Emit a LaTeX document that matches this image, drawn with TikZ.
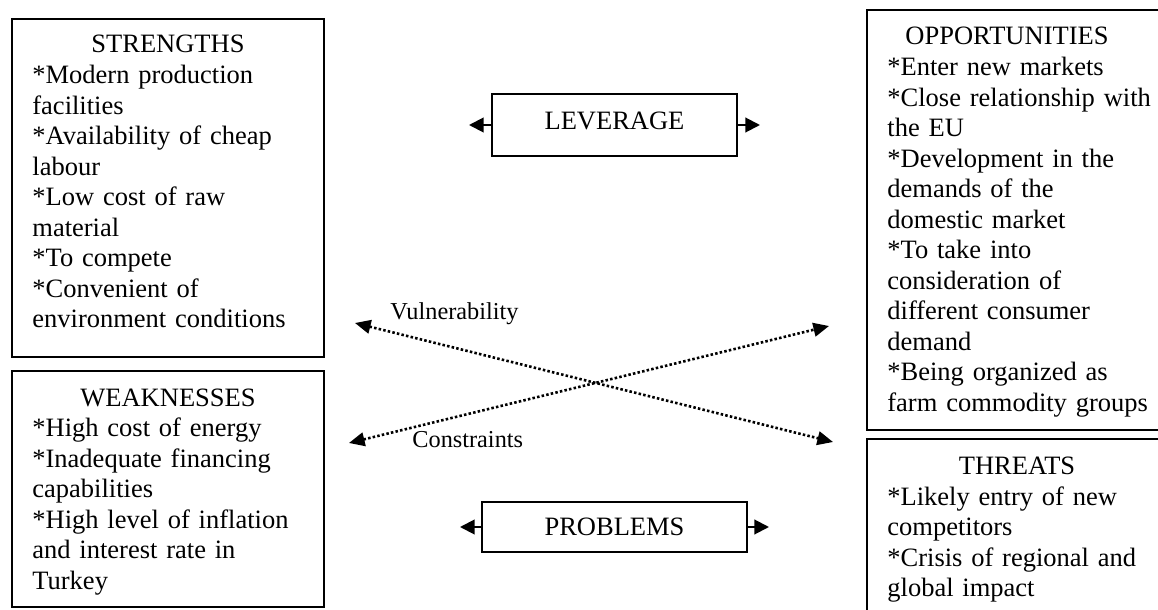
\documentclass[tikz,border=0pt]{standalone}
\usepackage{fontspec}
\setmainfont{Liberation Serif}
\usetikzlibrary{arrows.meta}
\begin{document}
\begin{tikzpicture}[x=0.5pt,y=-0.5pt,
  box/.style={draw, line width=1pt, inner sep=0pt, outer sep=0pt, anchor=north west},
  ttl/.style={font=\fontsize{13.25pt}{15.25pt}\selectfont, inner sep=0pt, anchor=base},
  body/.style={font=\fontsize{13.25pt}{15.25pt}\selectfont, inner sep=0pt, anchor=north west, text width=150pt, align=left},
  midbox/.style={draw, line width=1pt, inner sep=0pt, outer sep=0pt, font=\fontsize{13.25pt}{15.25pt}\selectfont},
  lbl/.style={font=\fontsize{12.15pt}{14pt}\selectfont, inner sep=0pt, anchor=base west},
  solidtip/.style={line width=1pt, -{Triangle[length=7.3pt,width=7.3pt]}},
  dotarrow/.style={line width=1.3pt, dash pattern=on 1.25pt off 1.1pt, {Triangle[length=7.8pt,width=6.8pt]}-{Triangle[length=7.8pt,width=6.8pt]}}
]
\useasboundingbox (0,0) rectangle (1158,610);
\clip (0,0) rectangle (1158,610);

% four SWOT boxes
\node[box, minimum width=156pt, minimum height=169pt] (S) at (12,19) {};
\node[box, minimum width=156pt, minimum height=118pt] (W) at (12,371) {};
\node[box, minimum width=148pt, minimum height=210pt] (O) at (867,10) {};
\node[box, minimum width=148pt, minimum height=92pt] (T) at (867,439) {};

% titles
\node[ttl] (St) at (168,53) {STRENGTHS};
\node[ttl] (Wt) at (168,406) {WEAKNESSES};
\node[ttl] (Ot) at (1007,45) {OPPORTUNITIES};
\node[ttl] (Tt) at (1017,474.5) {THREATS};

% bodies
\node[body] (Sb) at (32,63.5) {\rule{0pt}{10pt}*Modern production\\{}facilities\\{}*Availability of cheap\\{}labour\\{}*Low cost of raw\\{}material\\{}*To compete\\{}*Convenient of\\{}environment conditions};
\node[body] (Wb) at (32,416.5) {\rule{0pt}{10pt}*High cost of energy\\{}*Inadequate financing\\{}capabilities\\{}*High level of inflation\\{}and interest rate in\\{}Turkey};
\node[body] (Ob) at (887,55.5) {\rule{0pt}{10pt}*Enter new markets\\{}*Close relationship with\\{}the EU\\{}*Development in the\\{}demands of the\\{}domestic market\\{}*To take into\\{}consideration of\\{}different consumer\\{}demand\\{}*Being organized as\\{}farm commodity groups};
\node[body] (Tb) at (887,485) {\rule{0pt}{10pt}*Likely entry of new\\{}competitors\\{}*Crisis of regional and\\{}global impact};

% middle boxes
\node[midbox, minimum width=122.5pt, minimum height=31pt, text depth=4pt] (lev) at (614.5,125) {LEVERAGE};
\node[midbox, minimum width=132.5pt, minimum height=25pt] (prob) at (614.5,527) {PROBLEMS};

\coordinate (levL) at (469,125);
\coordinate (levR) at (760,125);
\coordinate (probL) at (460,527);
\coordinate (probR) at (769,527);
\draw[solidtip] (lev.west) -- (levL);
\draw[solidtip] (lev.east) -- (levR);
\draw[solidtip] (prob.west) -- (probL);
\draw[solidtip] (prob.east) -- (probR);

% crossing dotted arrows
\coordinate (v1) at (355,323);
\coordinate (v2) at (833,442);
\coordinate (c1) at (349,443);
\coordinate (c2) at (829,326);
\draw[dotarrow] (v1) -- (v2);
\draw[dotarrow] (c1) -- (c2);

\node[lbl] (vul) at (390,320) {Vulnerability};
\node[lbl] (con) at (412,447) {Constraints};
\end{tikzpicture}
\end{document}
